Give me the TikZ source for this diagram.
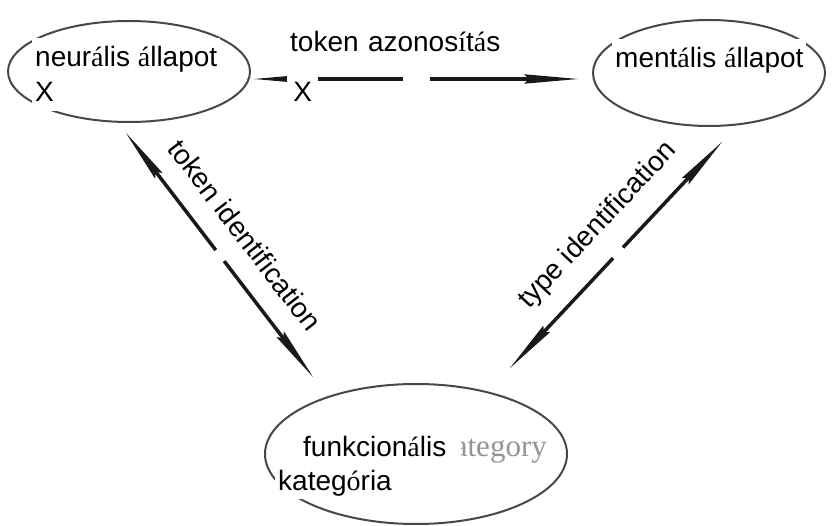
\documentclass[tikz,border=0pt]{standalone}
\usepackage{fontspec}
\setmainfont{Liberation Sans}
\newfontfamily\accfont{Liberation Serif}
\newfontfamily\ghostfont{Liberation Serif}
\usetikzlibrary{shapes.geometric,arrows.meta,calc}
% accented letters are set in the serif face
\newcommand\ac[1]{{\accfont#1}}
\begin{document}
\begin{tikzpicture}[x=1pt,y=-1pt,
  state/.style={ellipse,draw=black!72,line width=2pt,inner sep=0pt},
  lbl/.style={font=\fontsize{28}{34}\selectfont,fill=white,inner xsep=3pt,inner ysep=3pt,
              text height=26pt,text depth=6pt,anchor=base west},
  slant/.style={font=\fontsize{28}{34}\selectfont,inner sep=0pt,sloped},
  link/.style={line width=3.5pt,draw=black!90},
  >={Stealth[length=54pt,width=9.5pt,inset=5pt,line width=0pt]}
]
\useasboundingbox (0,0) rectangle (832,526);

% the three states
\node[state,minimum width=242pt,minimum height=101pt] (n) at (129,71.5) {};
\node[state,minimum width=232pt,minimum height=106pt] (m) at (709,73) {};
\node[state,minimum width=302pt,minimum height=140pt] (f) at (416,454) {};

% arrow end points just off the ellipses
\coordinate (nE)  at (254,79);
\coordinate (mW)  at (578,79);
\coordinate (nS)  at (126,133);
\coordinate (fNW) at (313,377);
\coordinate (mS)  at (722,142);
\coordinate (fNE) at (510,368);

% double-headed connectors, each broken in the middle
\draw[link,<-] (nE) -- ($(nE)!0.46!(mW)$);
\draw[link,->] ($(nE)!0.543!(mW)$) -- (mW);
\draw[link,<-] (nS) -- ($(nS)!0.48!(fNW)$);
\draw[link,->] ($(nS)!0.525!(fNW)$) -- (fNW);
\draw[link,<-] (fNE) -- ($(fNE)!0.486!(mS)$);
\draw[link,->] ($(fNE)!0.533!(mS)$) -- (mS);

% sloped labels
\path (nS) -- (fNW) node[slant,midway,above=22pt] (tid) {token identification};
\path (fNE) -- (mS) node[slant,pos=0.53,above=20pt] (tyid) {type identification};

% state labels
\node[lbl] (nl1) at (32,67) {neur\ac{á}lis \ac{á}llapot};
\node[lbl] (nl2) at (32,102) {X};
\node[lbl,text width=267pt] (hl1) at (287,52) {token azonos\ac{í}t\ac{á}s};
\node[lbl,minimum width=31pt] (hl2) at (287,102) {X};
\node[lbl] (ml) at (612,68) {ment\ac{á}lis \ac{á}llapot};
\node[font=\ghostfont\fontsize{31}{34}\selectfont,text=black!42,anchor=base east,inner sep=0pt]
  (ghost) at (547,456) {category};
\node[lbl,text width=155pt] (fl1) at (300,456) {funkcion\ac{á}lis};
\node[lbl] (fl2) at (275,490) {kateg\ac{ó}ria};
\end{tikzpicture}
\end{document}
